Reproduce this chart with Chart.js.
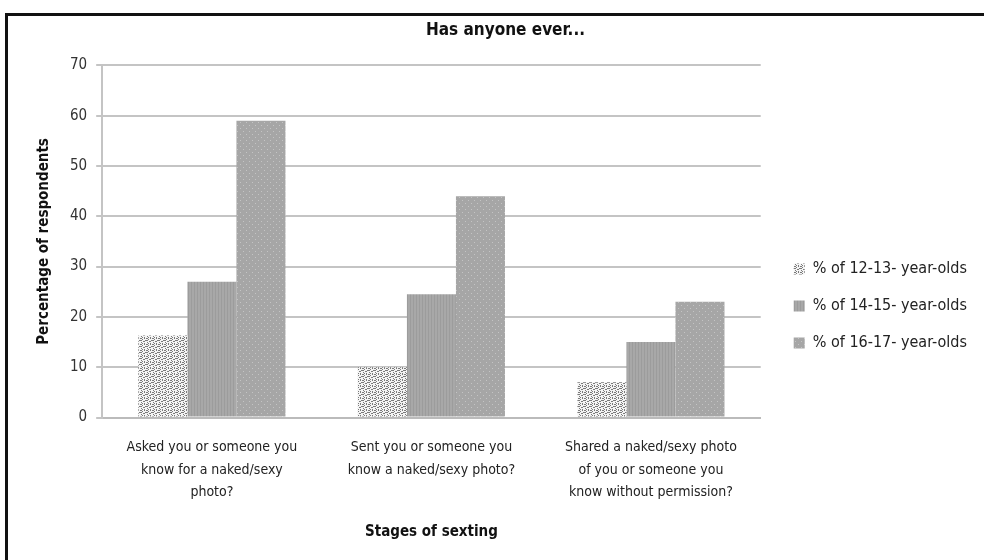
<!DOCTYPE html>
<html>
<head>
<meta charset="utf-8">
<script src="https://cdn.jsdelivr.net/npm/chart.js@4"></script>
<style>
    body { margin: 0; background: #fff; }
    #frame {
        position: absolute; left: 5px; top: 13px; width: 990px; height: 560px;
        border-left: 3px solid #111; border-top: 3px solid #111;
    }
    #wrap { position: absolute; left: 8px; top: 16px; width: 976px; height: 544px; }
</style>
</head>
<body>
<div id="frame"></div>
<div id="wrap"><canvas id="chart"></canvas></div>
<script>
const categories = [
    ['Asked you or someone you', 'know for a naked/sexy', 'photo?'],
    ['Sent you or someone you', 'know a naked/sexy photo?'],
    ['Shared a naked/sexy photo', 'of you or someone you', 'know without permission?']
];
const seriesNames = ['% of 12-13- year-olds', '% of 14-15- year-olds', '% of 16-17- year-olds'];
const age1213 = [16.3, 10, 7];
const age1415 = [27, 24.5, 15];
const age1617 = [59, 44, 23];

function makePattern(kind) {
    const c = document.createElement('canvas');
    c.width = 6; c.height = 6;
    const g = c.getContext('2d');
    if (kind === 'dots') {
        g.fillStyle = '#f4f4f4';
        g.fillRect(0, 0, 6, 6);
        g.fillStyle = '#7a7a7a';
        g.fillRect(0, 0, 2, 1); g.fillRect(3, 1, 2, 1);
        g.fillRect(1, 2, 1, 1); g.fillRect(4, 3, 1, 2);
        g.fillRect(0, 4, 2, 1); g.fillRect(2, 5, 1, 1);
        g.fillRect(5, 0, 1, 1); g.fillRect(2, 3, 1, 1);
    } else if (kind === 'vlines') {
        g.fillStyle = '#a8a8a8';
        g.fillRect(0, 0, 6, 6);
        g.fillStyle = '#9c9c9c';
        g.fillRect(0, 0, 1, 6); g.fillRect(3, 0, 1, 6);
    } else {
        g.fillStyle = '#a6a6a6';
        g.fillRect(0, 0, 6, 6);
        g.fillStyle = '#c4c4c4';
        g.fillRect(1, 1, 1, 1); g.fillRect(4, 4, 1, 1);
    }
    return g.createPattern(c, 'repeat');
}

// widen the legend box and nudge its items right, like the reference
const legendWidth = {
    id: 'legendWidth',
    beforeInit(chart) {
        const legend = chart.legend;
        const origFit = legend.fit;
        legend.fit = function () {
            origFit.call(this);
            this.width += 15;
        };
        const origDraw = legend.draw;
        legend.draw = function () {
            this.left += 12;
            origDraw.call(this);
            this.left -= 12;
        };
    }
};

const ctx = document.getElementById('chart').getContext('2d');
Chart.defaults.font.family = "'DejaVu Sans Condensed', 'Liberation Sans', sans-serif";
Chart.defaults.color = '#222';

new Chart(ctx, {
    type: 'bar',
    data: {
        labels: categories,
        datasets: [
            { label: seriesNames[0], data: age1213, backgroundColor: makePattern('dots') },
            { label: seriesNames[1], data: age1415, backgroundColor: makePattern('vlines') },
            { label: seriesNames[2], data: age1617, backgroundColor: makePattern('pdots') }
        ]
    },
    options: {
        responsive: true,
        maintainAspectRatio: false,
        animation: false,
        layout: { padding: { left: 23, right: 4, top: 0, bottom: 15 } },
        datasets: { bar: { categoryPercentage: 0.67, barPercentage: 1 } },
        plugins: {
            title: {
                display: true,
                text: 'Has anyone ever...',
                font: { size: 17, weight: 'bold' },
                color: '#111',
                padding: { top: 4, bottom: 25 }
            },
            legend: {
                position: 'right',
                title: { display: true, text: ' ', font: { size: 16 }, padding: { top: 0, bottom: 32 } },
                labels: {
                    boxWidth: 11, boxHeight: 11,
                    font: { size: 16 },
                    color: '#222',
                    padding: 21
                }
            }
        },
        scales: {
            x: {
                grid: { display: false },
                border: { color: '#bbb', width: 2 },
                ticks: { font: { size: 14, lineHeight: 1.607 }, color: '#222', maxRotation: 0, autoSkip: false, padding: 11 },
                title: {
                    display: true, text: 'Stages of sexting',
                    font: { size: 15, weight: 'bold' }, color: '#111', padding: { top: 8 }
                }
            },
            y: {
                min: 0, max: 70,
                ticks: { stepSize: 10, font: { size: 15 }, color: '#333', padding: 9 },
                grid: { color: '#c4c4c4', lineWidth: 2, tickLength: 6 },
                border: { color: '#c4c4c4', width: 2 },
                title: {
                    display: true, text: 'Percentage of respondents',
                    font: { size: 15, weight: 'bold' }, color: '#111', padding: { bottom: 8 }
                }
            }
        }
    },
    plugins: [legendWidth]
});
</script>
</body>
</html>
